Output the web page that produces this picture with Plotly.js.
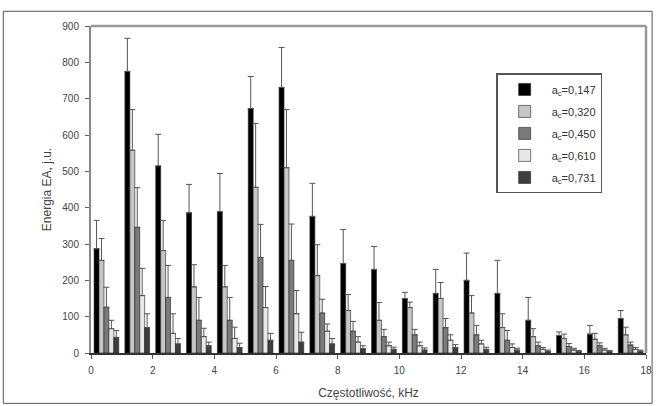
<!DOCTYPE html>
<html>
<head>
<meta charset="utf-8">
<script src="https://cdn.plot.ly/plotly-3.0.1.min.js"></script>
<style>html,body{margin:0;padding:0;background:#fff;}#chart{width:656px;height:406px;}</style>
</head>
<body>
<div id="chart"></div>
<script>
var freq = [0,1,2,3,4,5,6,7,8,9,10,11,12,13,14,15,16,17];
var seriesNames = ['a<sub>c</sub>=0,147','a<sub>c</sub>=0,320','a<sub>c</sub>=0,450','a<sub>c</sub>=0,610','a<sub>c</sub>=0,731'];
var s1 = [287,775,515,386,389,673,731,376,246,230,150,164,200,164,90,48,52,95];
var e1 = [78,91,87,78,105,88,110,91,94,63,17,66,75,91,63,10,24,22];
var s2 = [255,558,282,182,182,456,510,213,117,90,125,150,110,70,45,40,38,50];
var e2 = [60,112,83,61,59,176,160,85,44,49,15,44,48,38,22,12,16,21];
var s3 = [126,346,153,90,90,263,255,110,60,45,50,70,50,35,20,18,20,22];
var e3 = [55,109,88,63,63,91,100,38,27,20,15,25,26,27,10,8,8,8];
var s4 = [67,158,54,45,40,125,108,60,30,20,20,35,25,15,10,8,8,10];
var e4 = [23,75,54,23,31,58,64,20,15,10,10,15,10,10,5,5,5,5];
var s5 = [43,70,25,20,15,35,30,25,12,10,8,15,10,8,5,4,4,5];
var e5 = [19,38,15,10,12,19,27,15,8,6,6,8,6,5,3,3,3,3];
var xTicks = [0,2,4,6,8,10,12,14,16,18];

var values = [s1,s2,s3,s4,s5];
var errors = [e1,e2,e3,e4,e5];
var colors = ['#000000','#c6c6c6','#7a7a7a','#e8e8e8','#3e3e3e'];
var barW = 0.16;
var traces = values.map(function(v,i){
  return {
    type:'bar', x:freq, y:v, name:seriesNames[i], legendgroup:'g'+i,
    width:barW, offset:0.1+i*barW,
    marker:{color:colors[i], line:{color:'#222', width:0.6}},
    error_y:{type:'data', array:errors[i], arrayminus:errors[i].map(function(){return 0;}), symmetric:false, visible:true, color:'#555', thickness:1, width:3}
  };
});

var layout = {
  width:656, height:406,
  margin:{l:91, r:10, t:26, b:53},
  paper_bgcolor:'#fff', plot_bgcolor:'#fff',
  barmode:'overlay',
  showlegend:true,
  font:{family:'Liberation Sans, Arial, sans-serif', color:'#444', size:10},
  legend:{x:0.73, y:0.855, xanchor:'left', yanchor:'top', bgcolor:'#fff', bordercolor:'#555', borderwidth:1.5, font:{size:11, color:'#333'}, tracegroupgap:3, itemwidth:44},
  xaxis:{range:[0,18], tickvals:xTicks, ticktext:xTicks.map(String), ticks:'outside', ticklen:4, tickcolor:'#555', ticklabelstandoff:3, showgrid:false, zeroline:false, showline:true, linecolor:'#333', linewidth:1.5,
    title:{text:'Częstotliwość, kHz', font:{size:12, color:'#444'}, standoff:14}},
  yaxis:{range:[0,900], dtick:100, ticks:'outside', ticklen:4, tickcolor:'#666', ticklabelstandoff:4, showgrid:false, zeroline:false, showline:true, linecolor:'#888', linewidth:2,
    title:{text:'Energia EA, j.u.', font:{size:12, color:'#444'}, standoff:8}},
  shapes:[
    {type:'line', xref:'paper', yref:'paper', x0:0, x1:1, y0:1, y1:1, line:{color:'#999', width:2.5}},
    {type:'line', xref:'paper', yref:'paper', x0:1, x1:1, y0:0, y1:1, line:{color:'#999', width:2.5}},
    {type:'rect', xref:'paper', yref:'paper', x0:-0.158, x1:1.011, y0:-0.154, y1:1.045, line:{color:'#555', width:1}, fillcolor:'rgba(0,0,0,0)'}
  ]
};
Plotly.newPlot('chart', traces, layout, {displayModeBar:false, staticPlot:true});
</script>
</body>
</html>
